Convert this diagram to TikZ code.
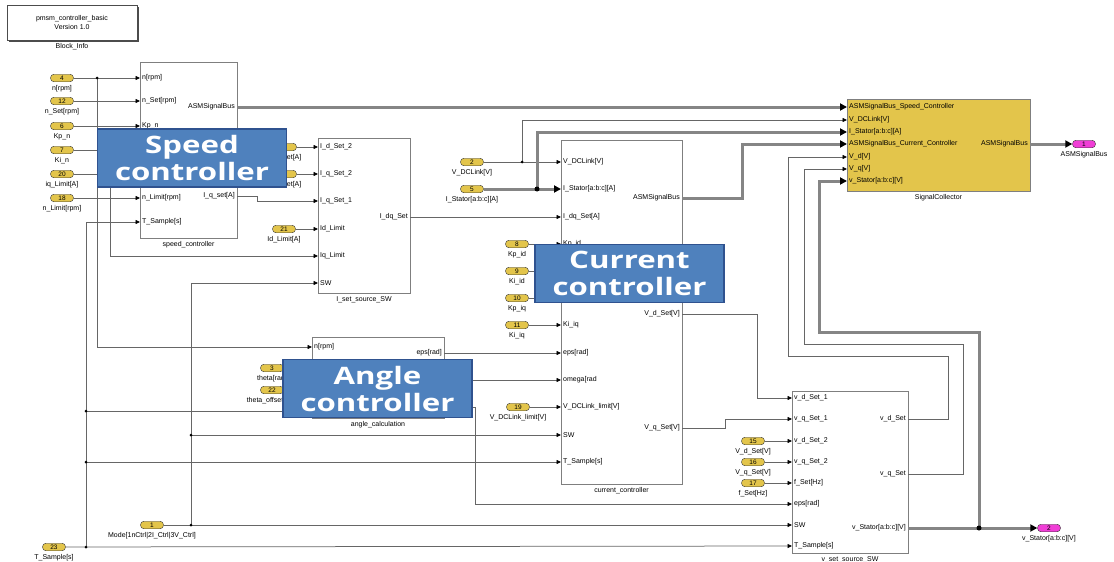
\documentclass[tikz,border=0pt]{standalone}
\usepackage{fontspec}
\setmainfont{Liberation Sans}
\newfontfamily\calloutfont{Open Sans}
\usepackage{graphicx}
\usetikzlibrary{arrows.meta,calc,positioning,shadows}
\definecolor{simyellow}{HTML}{E3C54B}
\definecolor{simpink}{HTML}{F03ED6}
\definecolor{calloutblue}{HTML}{4F81BD}
\definecolor{calloutedge}{HTML}{2F528F}
\definecolor{wiregray}{HTML}{666666}
\definecolor{busgray}{HTML}{858585}
\definecolor{blockedge}{HTML}{7F7F7F}
\newcommand{\stretchtxt}[1]{\scalebox{1.3}[1]{#1}}

\tikzset{
  wire/.style={wiregray,line width=0.75pt,-{Triangle[length=4.5pt,width=4pt,color=black]}},
  bus/.style={busgray,line width=3pt,-{Triangle[length=7pt,width=7pt,color=black]}},
  blk/.style={draw=blockedge,line width=0.8pt,fill=white,inner sep=0pt},
  inport/.style={draw=black!80,fill=simyellow,rounded corners=3.5pt,minimum width=23pt,minimum height=7.5pt,inner sep=0pt,font=\fontsize{6.5}{6.5}\selectfont},
  outport/.style={inport,fill=simpink},
  tag/.style={font=\fontsize{7}{8}\selectfont,inner sep=0.8pt},
  portl/.style={tag,anchor=west,inner sep=2pt},
  portr/.style={tag,anchor=east,inner sep=2pt},
  callout/.style={draw=calloutedge,line width=1.4pt,fill=calloutblue,text=white,align=center,
    font=\calloutfont\bfseries\fontsize{24}{27}\selectfont,minimum width=189pt,minimum height=58pt,inner sep=0pt},
  jdot/.style={circle,fill=black,inner sep=0pt,minimum size=3pt},
}

\begin{document}
\begin{tikzpicture}[x=1pt,y=-1pt,label distance=2.5pt]
  \useasboundingbox (0,0) rectangle (1114,562);

  % info block
  \node[draw=black!70,fill=white,line width=0.6pt,minimum width=130pt,minimum height=35pt,align=center,
    font=\fontsize{7}{9}\selectfont,drop shadow={shadow xshift=1.5pt,shadow yshift=-1.5pt,fill=black!70,opacity=1},
    label={[tag]below:Block\_Info}] (binfo) at (72,22.5) {pmsm\_controller\_basic\\Version 1.0};

  % speed controller
  \node[blk,minimum width=97pt,minimum height=176pt,label={[tag]below:speed\_controller}] (spd) at (188.5,150) {};
  \foreach \i/\y/\pname in {1/78/n[rpm],2/101/n\_Set[rpm],3/126/Kp\_n,4/150/,5/174/,6/198/n\_Limit[rpm],7/222/T\_Sample[s]}{
    \coordinate (spd-i\i) at (140,\y);
    \node[portl] (spd-t\i) at (spd-i\i) {\pname};
  }
  \coordinate (spd-o1) at (237,107);
  \coordinate (spd-o2) at (237,196);
  \node[portr] (spd-t8) at (spd-o1) {ASMSignalBus};
  \node[portr] (spd-t9) at (spd-o2) {I\_q\_set[A]};

  % current source switch
  \node[blk,minimum width=92pt,minimum height=155pt,label={[tag]below:I\_set\_source\_SW}] (iset) at (364,215.5) {};
  \foreach \i/\y/\pname in {1/147/I\_d\_Set\_2,2/174/I\_q\_Set\_2,3/201/I\_q\_Set\_1,4/229/Id\_Limit,5/256/Iq\_Limit,6/283/SW}{
    \coordinate (iset-i\i) at (318,\y);
    \node[portl] (iset-t\i) at (iset-i\i) {\pname};
  }
  \coordinate (iset-o1) at (410,217);
  \node[portr] (iset-t7) at (iset-o1) {I\_dq\_Set};

  % angle calculation
  \node[blk,minimum width=132pt,minimum height=81pt,label={[tag]below:angle\_calculation}] (ang) at (378,377.5) {};
  \foreach \i/\y in {1/347,2/368,3/390,4/411}
    \coordinate (ang-i\i) at (312,\y);
  \node[portl] (ang-t1) at (ang-i1) {n[rpm]};
  \coordinate (ang-o1) at (444,353);
  \coordinate (ang-o2) at (444,380);
  \coordinate (ang-o3) at (444,407);
  \node[portr] (ang-t5) at (ang-o1) {eps[rad]};

  % current controller
  \node[blk,minimum width=121pt,minimum height=344pt,label={[tag]below:current\_controller}] (cur) at (621.5,312) {};
  \foreach \i/\y/\pname in {1/162/V\_DCLink[V],2/189/I\_Stator[a:b:c][A],3/217/I\_dq\_Set[A],4/244/Kp\_id,5/271/,6/298/,
      7/325/Ki\_iq,8/353/eps[rad],9/380/omega[rad/s],10/407/V\_DCLink\_limit[V],11/435/SW,12/462/T\_Sample[s]}{
    \coordinate (cur-i\i) at (561,\y);
    \node[portl] (cur-t\i) at (cur-i\i) {\pname};
  }
  \coordinate (cur-o1) at (682,198);
  \coordinate (cur-o2) at (682,314);
  \coordinate (cur-o3) at (682,428);
  \node[portr] (cur-t13) at (cur-o1) {ASMSignalBus};
  \node[portr] (cur-t14) at (cur-o2) {V\_d\_Set[V]};
  \node[portr] (cur-t15) at (cur-o3) {V\_q\_Set[V]};

  % signal collector
  \node[blk,fill=simyellow,minimum width=183pt,minimum height=92pt,label={[tag]below:SignalCollector}] (sig) at (938.5,145) {};
  \foreach \i/\y/\pname in {1/107/ASMSignalBus\_Speed\_Controller,2/120/V\_DCLink[V],3/132/I\_Stator[a:b:c][A],
      4/144/ASMSignalBus\_Current\_Controller,5/157/V\_d[V],6/169/V\_q[V],7/181/v\_Stator[a:b:c][V]}{
    \coordinate (sig-i\i) at (847,\y);
    \node[portl] (sig-t\i) at (sig-i\i) {\pname};
  }
  \coordinate (sig-o1) at (1030,144);
  \node[portr] (sig-t8) at (sig-o1) {ASMSignalBus};

  % voltage source switch
  \node[blk,minimum width=116pt,minimum height=162pt,label={[tag]below:v\_set\_source\_SW}] (vset) at (850,472) {};
  \foreach \i/\y/\pname in {1/398/v\_d\_Set\_1,2/419/v\_q\_Set\_1,3/441/v\_d\_Set\_2,4/462/v\_q\_Set\_2,5/483/f\_Set[Hz],
      6/504/eps[rad],7/525/SW,8/546/T\_Sample[s]}{
    \coordinate (vset-i\i) at (792,\y);
    \node[portl] (vset-t\i) at (vset-i\i) {\pname};
  }
  \coordinate (vset-o1) at (908,419);
  \coordinate (vset-o2) at (908,474);
  \coordinate (vset-o3) at (908,528);
  \node[portr] (vset-t9) at (vset-o1) {v\_d\_Set};
  \node[portr] (vset-t10) at (vset-o2) {v\_q\_Set};
  \node[portr] (vset-t11) at (vset-o3) {v\_Stator[a:b:c][V]};

  % inports
  \foreach \n/\x/\y/\pname in {4/62/78/n[rpm],12/62/101/n\_Set[rpm],6/62/126/Kp\_n,7/62/150/Ki\_n,20/62/174/iq\_Limit[A],
      18/62/198/n\_Limit[rpm],21/284/229/Id\_Limit[A],2/472/162/V\_DCLink[V],5/472/189/I\_Stator[a:b:c][A],
      8/517/244/Kp\_id,9/517/271/Ki\_id,10/517/298/Kp\_iq,11/517/325/Ki\_iq,19/518/407/V\_DCLink\_limit[V],
      3/272/368/theta[rad],22/272/390/theta\_offset[rad],15/753/441/V\_d\_Set[V],16/753/462/V\_q\_Set[V],
      17/753/483/f\_Set[Hz],1/152/525/Mode[1nCtrl|2I\_Ctrl|3V\_Ctrl],23/54/547/T\_Sample[s]}{
    \node[inport,label={[tag]below:\pname}] (in\n) at (\x,\y) {\n};
  }
  \node[inport,label={[tag]below:I\_d\_Set[A]}] (inid) at (285,147) {};
  \node[inport,label={[tag]below:I\_q\_Set[A]}] (iniq) at (285,174) {};
  \node[outport,label={[tag]below:ASMSignalBus}] (out1) at (1084,144) {1};
  \node[outport,label={[tag]below:v\_Stator[a:b:c][V]}] (out2) at (1049,528) {2};

  % branch points
  \coordinate (j-n) at (97,78);
  \coordinate (j-iq) at (110,174);
  \coordinate (j-ts) at (86,547);
  \coordinate (j-ts2) at (86,411);
  \coordinate (j-ts3) at (86,462);
  \coordinate (j-md) at (191,525);
  \coordinate (j-md2) at (191,435);
  \coordinate (j-dc) at (522,162);
  \coordinate (j-is) at (537,189);
  \coordinate (j-vs) at (979,528);

  % wires
  \draw[wire] (in4) -- (spd-i1);
  \draw[wire] (j-n) |- (ang-i1);
  \draw[wire] (in12) -- (spd-i2);
  \draw[wire] (in6) -- (spd-i3);
  \draw[wire] (in7) -- (spd-i4);
  \draw[wire] (in20) -- (spd-i5);
  \draw[wire] (j-iq) |- (iset-i5);
  \draw[wire] (in18) -- (spd-i6);
  \draw[wire] (in23) -- (vset-i8);
  \draw[wire] (j-ts) |- (spd-i7);
  \draw[wire] (j-ts2) -- (ang-i4);
  \draw[wire] (j-ts3) -- (cur-i12);
  \draw[wire] (in1) -- (vset-i7);
  \draw[wire] (j-md) |- (iset-i6);
  \draw[wire] (j-md2) -- (cur-i11);
  \draw[wire] (inid) -- (iset-i1);
  \draw[wire] (iniq) -- (iset-i2);
  \draw[wire] (spd-o2) -- ++(20,0) |- (iset-i3);
  \draw[wire] (in21) -- (iset-i4);
  \draw[wire] (iset-o1) -- (cur-i3);
  \draw[wire] (in2) -- (cur-i1);
  \draw[wire] (j-dc) |- (sig-i2);
  \draw[bus] (in5) -- (cur-i2);
  \draw[bus] (j-is) |- (sig-i3);
  \draw[wire] (in8) -- (cur-i4);
  \draw[wire] (in9) -- (cur-i5);
  \draw[wire] (in10) -- (cur-i6);
  \draw[wire] (in11) -- (cur-i7);
  \draw[wire] (in19) -- (cur-i10);
  \draw[wire] (in3) -- (ang-i2);
  \draw[wire] (in22) -- (ang-i3);
  \draw[wire] (ang-o1) -- (cur-i8);
  \draw[wire] (ang-o2) -- (cur-i9);
  \draw[wire] (ang-o3) -- ++(31,0) |- (vset-i6);
  \draw[bus] (spd-o1) -- (sig-i1);
  \draw[bus] (cur-o1) -- ++(60,0) |- (sig-i4);
  \draw[wire] (cur-o2) -- ++(75,0) |- (vset-i1);
  \draw[wire] (cur-o3) -- ++(43,0) |- (vset-i2);
  \draw[wire] (in15) -- (vset-i3);
  \draw[wire] (in16) -- (vset-i4);
  \draw[wire] (in17) -- (vset-i5);
  \draw[bus] (sig-o1) -- (out1);
  \draw[bus] (vset-o3) -- (out2);
  \draw[bus] (j-vs) |- (819,332) |- (sig-i7);
  \draw[wire] (vset-o1) -- ++(40,0) |- (788,356) |- (sig-i5);
  \draw[wire] (vset-o2) -- ++(55,0) |- (804,344) |- (sig-i6);

  \foreach \j in {j-n,j-ts,j-ts2,j-ts3,j-md,j-md2,j-dc}
    \node[jdot] (d-\j) at (\j) {};
  \node[jdot,minimum size=5pt] (d-j-is) at (j-is) {};
  \node[jdot,minimum size=5pt] (d-j-vs) at (j-vs) {};

  % callouts
  \node[callout] (c-spd) at (192,158) {\stretchtxt{Speed}\\\stretchtxt{controller}};
  \node[callout] (c-cur) at (629.5,273.5) {\stretchtxt{Current}\\\stretchtxt{controller}};
  \node[callout] (c-ang) at (377.5,388.5) {\stretchtxt{Angle}\\\stretchtxt{controller}};
\end{tikzpicture}
\end{document}
